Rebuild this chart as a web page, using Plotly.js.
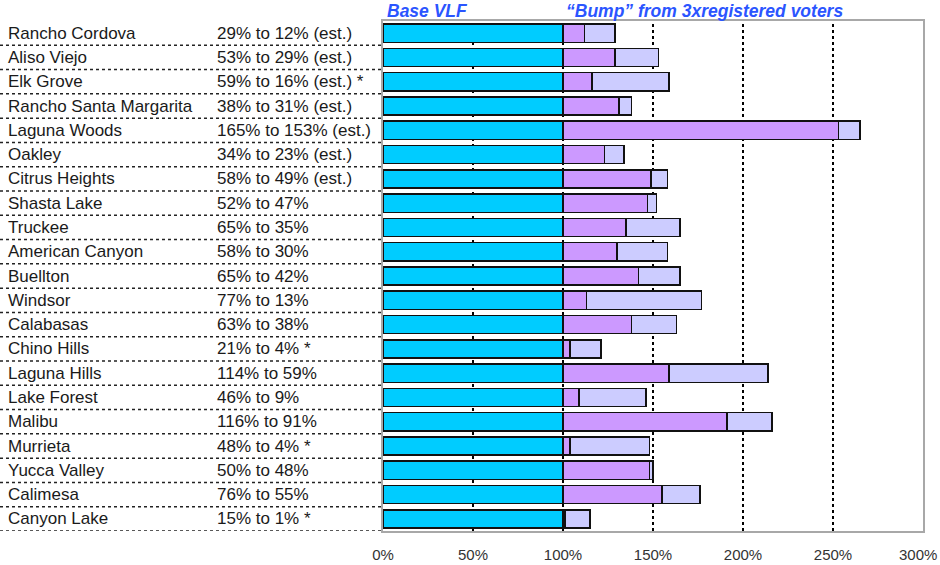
<!DOCTYPE html>
<html>
<head>
<meta charset="utf-8">
<script src="https://cdn.plot.ly/plotly-3.0.1.min.js"></script>
<style>html,body{margin:0;padding:0;background:#fff;}#chart{width:940px;height:565px;}</style>
</head>
<body>
<div id="chart"></div>
<script>
const cities = ["Rancho Cordova","Aliso Viejo","Elk Grove","Rancho Santa Margarita","Laguna Woods","Oakley","Citrus Heights","Shasta Lake","Truckee","American Canyon","Buellton","Windsor","Calabasas","Chino Hills","Laguna Hills","Lake Forest","Malibu","Murrieta","Yucca Valley","Calimesa","Canyon Lake"];
const vlfBefore = [29,53,59,38,165,34,58,52,65,58,65,77,63,21,114,46,116,48,50,76,15];
const vlfAfter  = [12,29,16,31,153,23,49,47,35,30,42,13,38,4,59,9,91,4,48,55,1];
const notes = [" (est.)"," (est.)"," (est.) *"," (est.)"," (est.)"," (est.)"," (est.)","","","","","",""," *","","",""," *","",""," *"];
const baseVLF = [100,100,100,100,100,100,100,100,100,100,100,100,100,100,100,100,100,100,100,100,100];
const xTicks = [0,50,100,150,200,250,300];
const gridVals = [50,100,150,200,250];

const n = cities.length;
const yIdx = cities.map((c,i)=>i);
const remaining = vlfBefore.map((b,i)=>b - vlfAfter[i]);
const rangeText = vlfBefore.map((b,i)=>b+"% to "+vlfAfter[i]+"%"+notes[i]);

const lineStyle = {color:'#111', width:1.5};
const traces = [
  {type:'bar', orientation:'h', y:yIdx, x:baseVLF, marker:{color:'#00CCFF', line:lineStyle}, hoverinfo:'skip'},
  {type:'bar', orientation:'h', y:yIdx, x:vlfAfter, marker:{color:'#CC99FF', line:lineStyle}, hoverinfo:'skip'},
  {type:'bar', orientation:'h', y:yIdx, x:remaining, marker:{color:'#CCCCFF', line:lineStyle}, hoverinfo:'skip'}
];

const L = 383, R = 923, T = 21, B = 531;
const W = R - L;
const px = v => (v - L) / W;

const txtFont = {family:'Liberation Sans, Arial', size:17, color:'#1a1a1a'};
const tickFont = {family:'Liberation Sans, Arial', size:15, color:'#333'};
const annotations = [];
yIdx.forEach(i=>{
  annotations.push({xref:'paper', yref:'y', x:px(6), y:i, xanchor:'left', yanchor:'middle', text:cities[i], showarrow:false, font:txtFont});
  annotations.push({xref:'paper', yref:'y', x:px(215), y:i, xanchor:'left', yanchor:'middle', text:rangeText[i], showarrow:false, font:txtFont});
});
const headFont = {family:'Liberation Sans, Arial', size:17.5, color:'#2B55FF'};
annotations.push({xref:'paper', yref:'paper', x:px(385), y:1 + 10/(B-T), xanchor:'left', yanchor:'middle', text:'<b><i>Base VLF</i></b>', showarrow:false, font:headFont});
annotations.push({xref:'paper', yref:'paper', x:px(564), y:1 + 10/(B-T), xanchor:'left', yanchor:'middle', text:'<b><i>“Bump” from 3xregistered voters</i></b>', showarrow:false, font:headFont});
// last tick label placed so it stays inside the window edge
const lastTick = xTicks[xTicks.length-1];
annotations.push({xref:'paper', yref:'paper', x:px(939), y:-(554.5-B)/(B-T), xanchor:'right', yanchor:'middle', text:lastTick+'%', showarrow:false, font:tickFont});

const shapes = [];
yIdx.forEach(i=>{
  shapes.push({type:'line', xref:'paper', yref:'y', x0:px(0), x1:0, y0:i+0.5, y1:i+0.5, line:{color:'#222', width:1.5, dash:'dot'}});
});
gridVals.forEach(v=>{
  shapes.push({type:'line', xref:'x', yref:'paper', x0:v, x1:v, y0:0, y1:1, layer:'below', line:{color:'#000', width:2, dash:'dot'}});
});

const layout = {
  width:940, height:565,
  margin:{l:L, r:940-R, t:T, b:565-B},
  paper_bgcolor:'#fff', plot_bgcolor:'#fff',
  barmode:'stack', bargap:0.25, showlegend:false,
  xaxis:{range:[0,300], tickvals:xTicks.slice(0,-1), ticktext:xTicks.slice(0,-1).map(v=>v+'%'), showgrid:false, zeroline:false,
         showline:true, mirror:true, linecolor:'#a8a8a8', linewidth:2, ticks:'', ticklabelstandoff:9,
         automargin:false, tickfont:tickFont, fixedrange:true},
  yaxis:{range:[n-0.5,-0.5], showticklabels:false, showgrid:false, zeroline:false,
         showline:true, mirror:true, linecolor:'#a8a8a8', linewidth:2, ticks:'', fixedrange:true},
  annotations:annotations, shapes:shapes
};
Plotly.newPlot('chart', traces, layout, {displayModeBar:false, staticPlot:true});
</script>
</body>
</html>
